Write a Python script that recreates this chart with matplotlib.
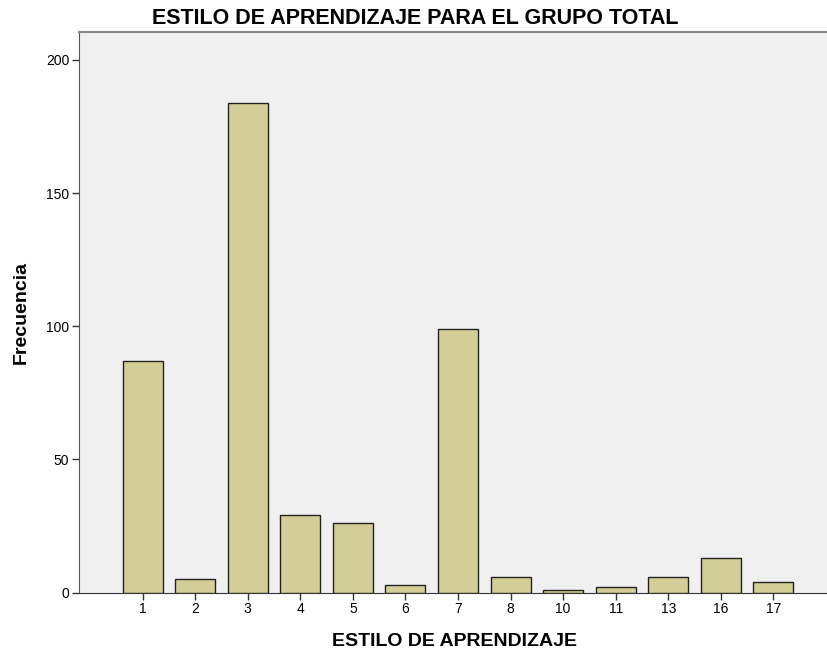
import matplotlib
matplotlib.use("Agg")
import matplotlib.pyplot as plt

categories = ["1", "2", "3", "4", "5", "6", "7", "8", "10", "11", "13", "16", "17"]
values = [87, 5, 184, 29, 26, 3, 99, 6, 1, 2, 6, 13, 4]
yticks = [0, 50, 100, 150, 200]

plt.rcParams['font.family'] = ['Liberation Sans', 'DejaVu Sans']

fig = plt.figure(figsize=(8.28, 6.56), dpi=100)
ax = fig.add_axes([79/828, 1 - 592.5/656, 1 - 79/828 + 0.002, (592.5 - 32)/656])
ax.set_facecolor('#F0F0F0')

x = list(range(len(categories)))
ax.bar(x, values, width=0.76, color='#D3CE98', edgecolor='#222222', linewidth=1.0, zorder=3)

ax.set_xlim(-1.21, 12 + (828 - 772) / 52.4)
ax.set_ylim(0, 210.5)
ax.set_xticks(x)
ax.set_xticklabels(categories, fontsize=10)
ax.set_yticks(yticks)
ax.set_yticklabels([str(v) for v in yticks], fontsize=10)
ax.tick_params(axis='both', direction='out', length=5, width=1, color='#333333', pad=2)

ax.spines['right'].set_visible(False)
ax.spines['top'].set_color('#888888')
ax.spines['top'].set_linewidth(1.5)
ax.spines['left'].set_color('#555555')
ax.spines['bottom'].set_color('#333333')

fig.text(415.5/828, 1 - 18.5/656, "ESTILO DE APRENDIZAJE PARA EL GRUPO TOTAL", ha='center', va='center',
         fontsize=15.5, fontweight='bold')
fig.text(455/828, 1 - 642/656, "ESTILO DE APRENDIZAJE", ha='center', va='center',
         fontsize=14, fontweight='bold')
fig.text(21/828, 1 - 312/656, "Frecuencia", ha='center', va='center', rotation=90,
         fontsize=14, fontweight='bold')

fig.savefig("out.png", dpi=100)
